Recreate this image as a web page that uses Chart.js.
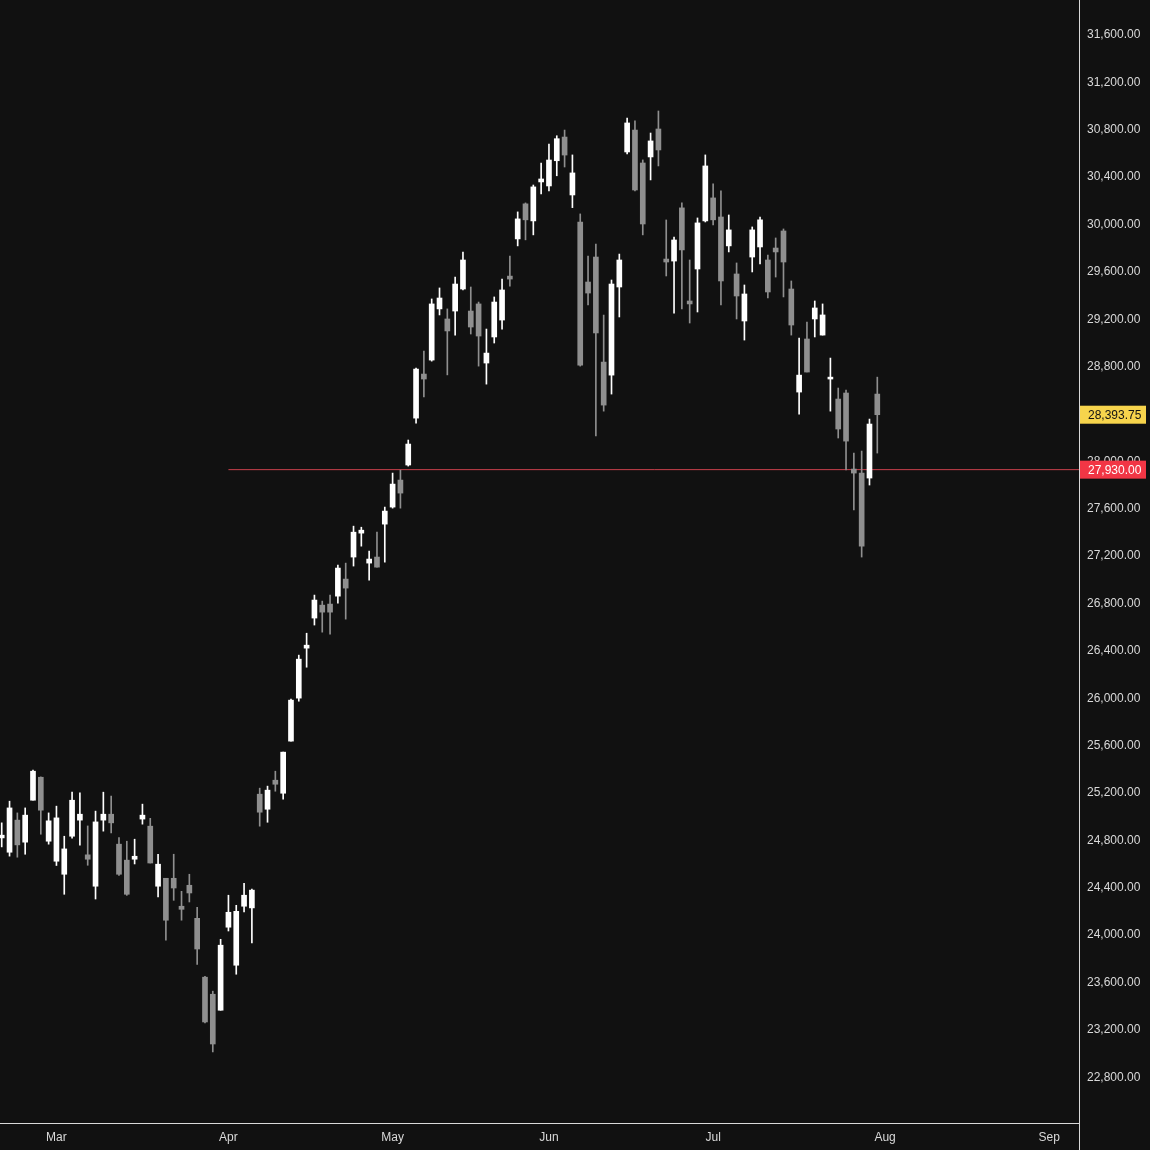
<!DOCTYPE html>
<html>
<head>
<meta charset="utf-8">
<script src="https://cdn.jsdelivr.net/npm/chart.js@4.4.1/dist/chart.umd.min.js"></script>
<style>
  html, body { margin: 0; padding: 0; background: #111111; }
  #wrap { width: 1150px; height: 1150px; }
</style>
</head>
<body>
<div id="wrap"><canvas id="chart"></canvas></div>
<script>
// Daily candles, late Feb -> 31 Jul (one entry per trading day)
const opens = [
  24821, 24700, 24971, 24785, 25139, 25333, 24793, 24624, 24514, 24835,
  24971, 24678, 24413, 24971, 25021, 24768, 24633, 24641, 24980, 24920,
  24413, 24480, 24480, 24244, 24421, 24142, 23645, 23501, 23366, 24067,
  23746, 24244, 24230, 25190, 25063, 25308, 25198, 25638, 26001, 26423,
  26677, 26786, 26795, 26862, 27006, 27192, 27394, 27141, 27192, 27470,
  27614, 27842, 27969, 28365, 28737, 28855, 29287, 29202, 29269, 29455,
  29269, 29329, 28830, 29050, 29193, 29564, 29878, 30174, 30030, 30359,
  30325, 30538, 30738, 30249, 30021, 29514, 29725, 28838, 28728, 29472,
  30612, 30797, 30519, 30570, 30806, 29708, 29691, 30140, 29354, 29624,
  30030, 30224, 30063, 29819, 29582, 29185, 29725, 29810, 29700, 29801,
  29945, 29455, 28585, 29033, 29202, 29066, 28695, 28526, 28577, 27935,
  27901, 27859, 28568
];
const highs = [
  24948, 25131, 25032, 25074, 25393, 25336, 25032, 25089, 24835, 25207,
  25201, 24922, 25047, 25207, 25173, 24824, 24793, 24810, 25106, 24986,
  24683, 24480, 24683, 24370, 24514, 24235, 23653, 23527, 23965, 24337,
  24252, 24438, 24388, 25241, 25258, 25384, 25545, 25992, 26364, 26549,
  26871, 26820, 26871, 27124, 27141, 27453, 27444, 27242, 27402, 27614,
  27901, 27926, 28180, 28787, 28931, 29371, 29464, 29287, 29556, 29767,
  29472, 29345, 29117, 29388, 29539, 29733, 30106, 30182, 30333, 30519,
  30679, 30749, 30797, 30587, 30089, 29733, 29835, 29235, 29531, 29750,
  30899, 30874, 30545, 30772, 30958, 30038, 29894, 30182, 29700, 30055,
  30587, 30342, 30283, 30080, 29675, 29489, 29979, 30063, 29742, 29886,
  29962, 29523, 29041, 29176, 29354, 29329, 28872, 28619, 28602, 28070,
  28087, 28357, 28711
];
const lows = [
  24745, 24667, 24658, 24683, 25139, 24852, 24768, 24588, 24345, 24818,
  24759, 24590, 24305, 24878, 24863, 24505, 24336, 24601, 24937, 24609,
  24322, 23957, 24294, 24126, 24280, 23753, 23258, 23014, 23366, 24035,
  23670, 24196, 23934, 24920, 24953, 25215, 25148, 25638, 25975, 26262,
  26618, 26558, 26542, 26803, 26668, 27116, 27284, 26997, 27107, 27149,
  27605, 27605, 27960, 28323, 28543, 28846, 29236, 28730, 29066, 29447,
  29075, 28804, 28652, 28999, 29117, 29480, 29819, 29870, 29912, 30258,
  30283, 30411, 30485, 30142, 28804, 29320, 28214, 28424, 28568, 29219,
  30595, 30283, 29912, 30376, 30494, 29565, 29252, 29287, 29168, 29261,
  30021, 29996, 29320, 29768, 29202, 29024, 29599, 29666, 29379, 29556,
  29388, 29066, 28399, 28754, 29050, 29066, 28424, 28197, 27927, 27589,
  27192, 27800, 28070
];
const closes = [
  24844, 25074, 24762, 25013, 25384, 25055, 24965, 24990, 24728, 25139,
  25021, 24641, 24956, 25021, 24948, 24514, 24345, 24666, 25013, 24609,
  24599, 24126, 24398, 24218, 24356, 23883, 23267, 23081, 23915, 24193,
  24201, 24337, 24380, 25038, 25224, 25274, 25545, 25984, 26330, 26448,
  26829, 26727, 26727, 27099, 26930, 27402, 27419, 27175, 27107, 27580,
  27808, 27732, 28146, 28779, 28695, 29329, 29379, 29101, 29497, 29700,
  29134, 29058, 28914, 29345, 29447, 29539, 30047, 30039, 30317, 30384,
  30544, 30724, 30586, 30435, 28813, 29421, 29084, 28475, 29497, 29700,
  30857, 30291, 30004, 30705, 30629, 29683, 29869, 29785, 29329, 30013,
  30494, 30039, 29523, 29954, 29396, 29413, 29954, 30039, 29430, 29768,
  29683, 29151, 28728, 28754, 29295, 29236, 28711, 28273, 28171, 27901,
  27284, 28315, 28393.75
];

// month labels sit on the first trading day of each month (bar index)
const monthLabels = ['Mar', 'Apr', 'May', 'Jun', 'Jul', 'Aug', 'Sep'];
const monthStarts = [7, 29, 50, 70, 91, 113, 134];
const priceTicks = [
  22800, 23200, 23600, 24000, 24400, 24800, 25200, 25600, 26000, 26400, 26800, 27200,
  27600, 28000, 28400, 28800, 29200, 29600, 30000, 30400, 30800, 31200, 31600
];
const lastPrice = closes[closes.length - 1];
const levelPrice = 27930;
const levelStart = 29;

const upColor = '#ffffff';
const downColor = '#8f8f8f';
const textColor = '#d9d9d9';
const axisColor = '#d9d9d9';

const fmt = v => v.toLocaleString('en-US', { minimumFractionDigits: 2, maximumFractionDigits: 2 });

const candleColors = opens.map((o, i) => closes[i] >= o ? upColor : downColor);
const wickData = highs.map((h, i) => ({ x: i, y: [lows[i], h] }));
const bodyData = opens.map((o, i) => ({ x: i, y: [o, closes[i]] }));

// price tags on the right scale, drawn over the axis labels
const priceTags = {
  id: 'priceTags',
  afterDraw(chart) {
    const ctx = chart.ctx;
    const yScale = chart.scales.y;
    const left = chart.chartArea.right;
    const tags = [
      { value: lastPrice, bg: '#f7d44c', fg: '#131313' },
      { value: levelPrice, bg: '#f23645', fg: '#ffffff' }
    ];
    ctx.save();
    // price scale separator runs down through the time axis row
    ctx.strokeStyle = axisColor;
    ctx.lineWidth = 1;
    ctx.beginPath();
    ctx.moveTo(Math.floor(left) + 0.5, chart.chartArea.bottom);
    ctx.lineTo(Math.floor(left) + 0.5, chart.height);
    ctx.stroke();

    ctx.font = '12px "Liberation Sans", Arial, sans-serif';
    ctx.textBaseline = 'middle';
    ctx.textAlign = 'left';
    tags.forEach(t => {
      const y = yScale.getPixelForValue(t.value);
      ctx.fillStyle = t.bg;
      ctx.fillRect(left + 1, y - 9, 66, 18);
      ctx.fillStyle = t.fg;
      ctx.fillText(fmt(t.value), left + 9, y + 1);
    });
    ctx.restore();
  }
};

Chart.defaults.font.family = '"Liberation Sans", Arial, sans-serif';
Chart.defaults.font.size = 12;
Chart.defaults.color = textColor;

new Chart(document.getElementById('chart'), {
  type: 'bar',
  data: {
    datasets: [
      {
        type: 'line',
        data: [{ x: levelStart, y: levelPrice }, { x: 140, y: levelPrice }],
        borderColor: '#c8404c',
        borderWidth: 1,
        pointRadius: 0,
        order: 3
      },
      {
        data: wickData,
        backgroundColor: candleColors,
        barThickness: 1,
        grouped: false,
        borderWidth: 0,
        order: 2
      },
      {
        data: bodyData,
        backgroundColor: candleColors,
        barThickness: 5,
        minBarLength: 1,
        grouped: false,
        borderWidth: 0,
        order: 1
      }
    ]
  },
  options: {
    responsive: true,
    maintainAspectRatio: false,
    animation: false,
    layout: { padding: 0 },
    plugins: {
      legend: { display: false },
      tooltip: { enabled: false }
    },
    scales: {
      x: {
        type: 'linear',
        offset: false,
        min: -0.22,
        max: 137.8,
        grid: { display: false, drawTicks: false },
        border: { display: true, color: axisColor, width: 1 },
        afterBuildTicks: scale => {
          scale.ticks = monthStarts.map(v => ({ value: v }));
        },
        afterFit: scale => {
          scale.height = 27;
          scale.paddingLeft = 0;
          scale.paddingRight = 0;
        },
        ticks: {
          autoSkip: false,
          maxRotation: 0,
          padding: 7,
          color: textColor,
          callback: v => monthLabels[monthStarts.indexOf(v)]
        }
      },
      y: {
        position: 'right',
        min: 22414,
        max: 31895,
        grid: { display: false, drawTicks: false },
        border: { display: true, color: axisColor, width: 1 },
        afterBuildTicks: scale => {
          scale.ticks = priceTicks.map(v => ({ value: v }));
        },
        afterFit: scale => {
          scale.width = 71;
          scale.paddingTop = 0;
          scale.paddingBottom = 0;
        },
        ticks: {
          padding: 8,
          color: textColor,
          callback: v => fmt(v)
        }
      }
    }
  },
  plugins: [priceTags]
});
</script>
</body>
</html>
